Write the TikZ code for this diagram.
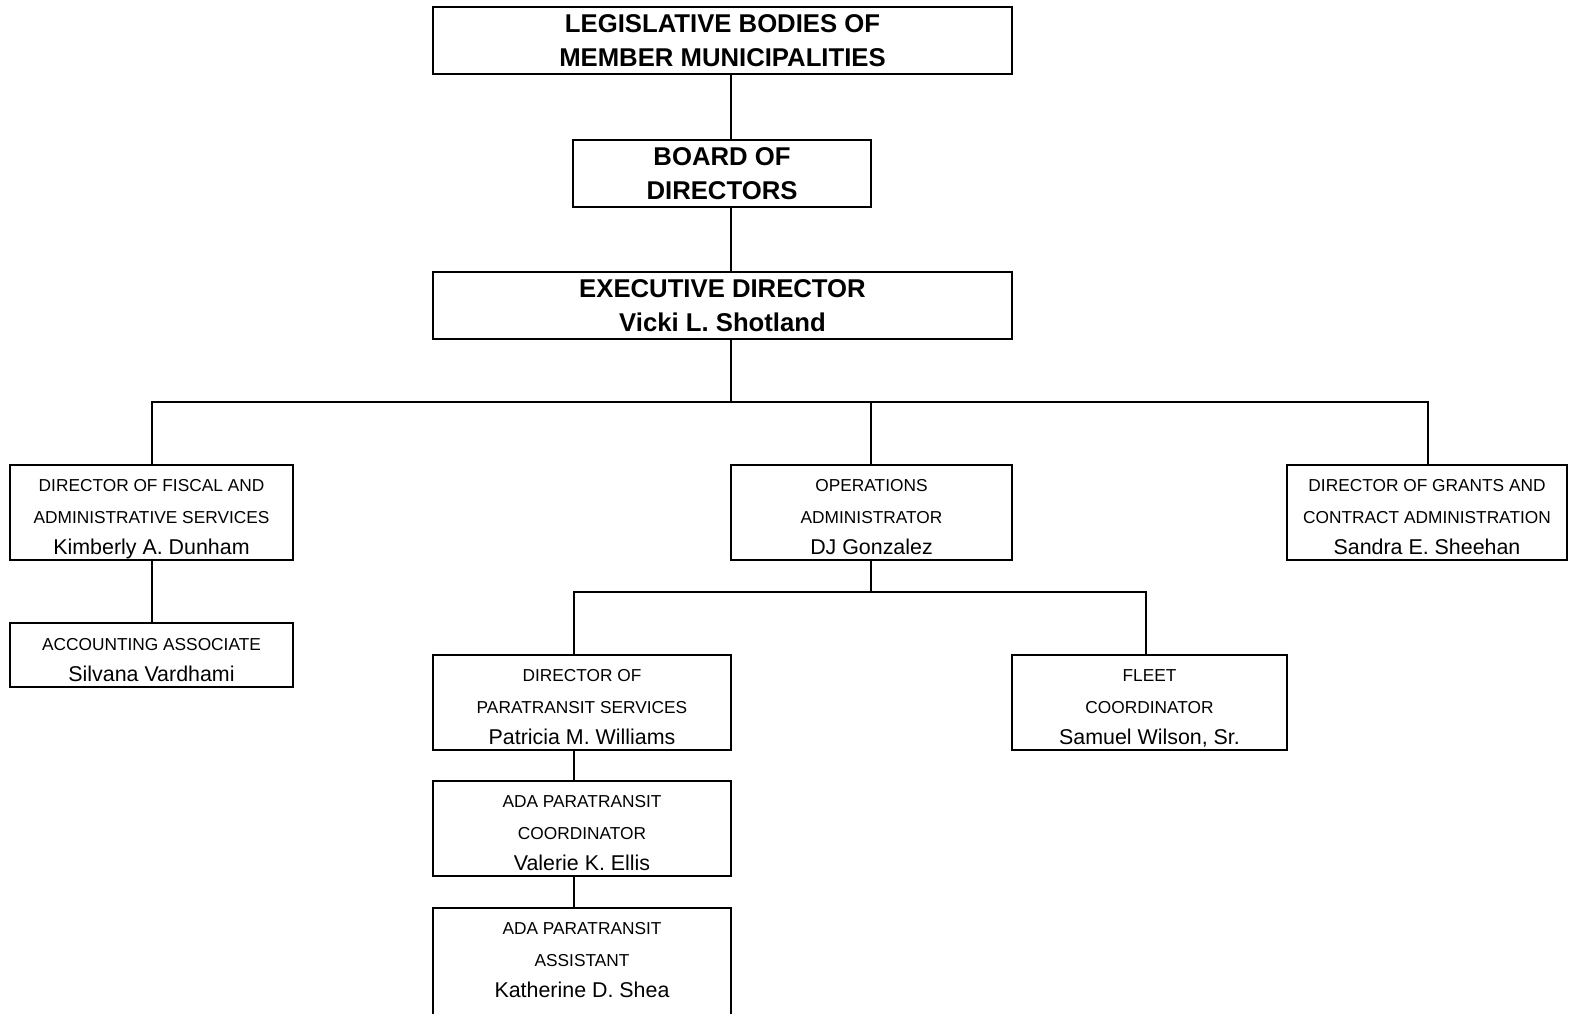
\documentclass[tikz,border=0pt]{standalone}
\usepackage{fontspec}
\setmainfont{Liberation Sans}
\newcommand{\who}[1]{{\fontsize{21.4}{31}\selectfont #1}}
\begin{document}
\begin{tikzpicture}[
    x=1pt, y=-1pt,
    % Style for the bold boxes at the top
    headbox/.style={draw=black, line width=1.8pt, inner sep=0pt, align=center,
        minimum height=67pt, font=\bfseries\fontsize{25.7}{33.5}\selectfont},
    % Style for the staff boxes
    staffbox/.style={draw=black, line width=1.8pt, inner sep=0pt, align=center,
        minimum height=95pt, text height=83.8pt, text depth=0pt,
        font=\fontsize{17.3}{31.4}\selectfont},
    % Style for the connectors
    link/.style={line width=1.8pt}
]
    \useasboundingbox (0,0) rectangle (1587,1014);
    \clip (0,0) rectangle (1587,1014);

    % --- 1. Top of the chart ---
    \node[headbox, minimum width=579pt] (leg) at (722.5, 40.5)
        {LEGISLATIVE BODIES OF\\MEMBER MUNICIPALITIES};
    \node[headbox, minimum width=298pt] (board) at (722, 173.5)
        {BOARD OF\\DIRECTORS};
    \node[headbox, minimum width=579pt] (exec) at (722.5, 305.5)
        {EXECUTIVE DIRECTOR\\Vicki L. Shotland};

    % --- 2. Staff boxes ---
    \node[staffbox, minimum width=283pt] (fiscal) at (151.5, 512.5)
        {DIRECTOR OF FISCAL AND\\ADMINISTRATIVE SERVICES\\\who{Kimberly A. Dunham}};
    \node[staffbox, minimum width=281pt] (ops) at (871.5, 512.5)
        {OPERATIONS\\ADMINISTRATOR\\\who{DJ Gonzalez}};
    \node[staffbox, minimum width=280pt] (grants) at (1427, 512.5)
        {DIRECTOR OF GRANTS AND\\CONTRACT ADMINISTRATION\\\who{Sandra E. Sheehan}};

    \node[staffbox, minimum width=283pt, minimum height=64pt, text height=52.8pt] (acct)
        at (151.5, 655) {ACCOUNTING ASSOCIATE\\\who{Silvana Vardhami}};

    \node[staffbox, minimum width=298pt] (para) at (582, 702.5)
        {DIRECTOR OF\\PARATRANSIT SERVICES\\\who{Patricia M. Williams}};
    \node[staffbox, minimum width=275pt] (fleet) at (1149.5, 702.5)
        {FLEET\\COORDINATOR\\\who{Samuel Wilson, Sr.}};

    \node[staffbox, minimum width=298pt] (coord) at (582, 828.5)
        {ADA PARATRANSIT\\COORDINATOR\\\who{Valerie K. Ellis}};
    % runs off the bottom of the page
    \node[staffbox, minimum width=298pt, minimum height=120pt] (assist) at (582, 968) {};
    \node[staffbox, draw=none, minimum width=298pt] (assisttxt) at (582, 955.5)
        {ADA PARATRANSIT\\ASSISTANT\\\who{Katherine D. Shea}};

    % --- 3. Connectors ---
    \coordinate (trunk) at (731, 402);
    \coordinate (opsbus) at (871, 592);

    \draw[link] (leg.south -| trunk) -- (board.north -| trunk);
    \draw[link] (board.south -| trunk) -- (exec.north -| trunk);
    \draw[link] (exec.south -| trunk) -- (trunk);

    % Bus below the executive director
    \draw[link] (fiscal.north -| 152,0) |- (trunk) -| (grants.north -| 1428,0);
    \draw[link] (trunk -| opsbus) -- (ops.north -| opsbus);

    \draw[link] (fiscal.south -| 152,0) -- (acct.north -| 152,0);

    % Bus below operations
    \draw[link] (ops.south -| opsbus) -- (opsbus);
    \draw[link] (para.north -| 574,0) |- (opsbus) -| (fleet.north -| 1146,0);

    \draw[link] (para.south -| 574,0) -- (coord.north -| 574,0);
    \draw[link] (coord.south -| 574,0) -- (assist.north -| 574,0);

\end{tikzpicture}
\end{document}
